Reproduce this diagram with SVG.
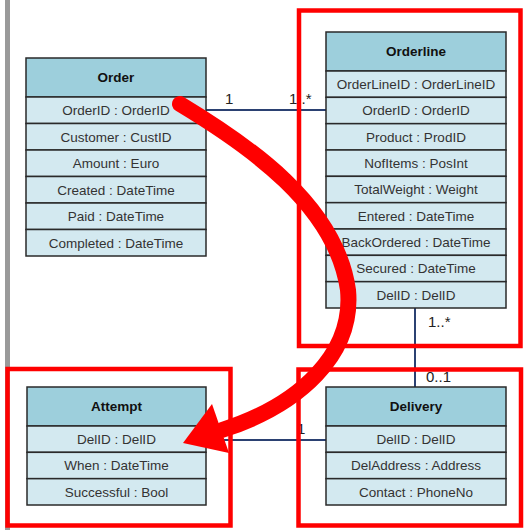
<svg xmlns="http://www.w3.org/2000/svg" width="525" height="530" viewBox="0 0 525 530">
<style>
text{font-family:"Liberation Sans",Arial,sans-serif}
.hd{fill:#9dcfdc;stroke:#2a2a2a;stroke-width:1.5}
.rw{fill:#d3e9f0;stroke:#2a2a2a;stroke-width:1.5}
.ht{font-size:13.5px;font-weight:bold;fill:#111;text-anchor:middle}
.rt{font-size:13.5px;fill:#333;text-anchor:middle}
.cn{stroke:#2b4172;stroke-width:2;fill:none}
.lb{font-size:15px;fill:#222}
.rb{fill:none;stroke:#ff0000;stroke-width:4.5}
</style>
<rect x="5" y="0" width="5" height="530" fill="#9a9a9a"/>
<g id="connectors">
<line class="cn" x1="206" y1="110" x2="326" y2="110"/>
<line class="cn" x1="415" y1="308" x2="415" y2="387"/>
<line class="cn" x1="206" y1="440" x2="326" y2="440"/>
<text class="lb" x="225" y="104">1</text>
<text class="lb" x="289" y="104">1..*</text>
<text class="lb" x="428" y="327">1..*</text>
<text class="lb" x="426" y="382">0..1</text>
<text class="lb" x="297" y="434">1</text>
</g>
<g id="order">
<rect class="hd" x="26" y="58" width="180" height="39"/>
<text class="ht" x="116" y="82">Order</text>
<rect class="rw" x="26" y="97" width="180" height="26.5"/>
<rect class="rw" x="26" y="123.5" width="180" height="26.5"/>
<rect class="rw" x="26" y="150" width="180" height="26.5"/>
<rect class="rw" x="26" y="176.5" width="180" height="26.5"/>
<rect class="rw" x="26" y="203" width="180" height="26.5"/>
<rect class="rw" x="26" y="229.5" width="180" height="26.5"/>
<text class="rt" x="116" y="115">OrderID : OrderID</text>
<text class="rt" x="116" y="141.5">Customer : CustID</text>
<text class="rt" x="116" y="168">Amount : Euro</text>
<text class="rt" x="116" y="194.5">Created : DateTime</text>
<text class="rt" x="116" y="221">Paid : DateTime</text>
<text class="rt" x="116" y="247.5">Completed : DateTime</text>
</g>
<g id="orderline">
<rect class="hd" x="326" y="32" width="180" height="39"/>
<text class="ht" x="416" y="56">Orderline</text>
<rect class="rw" x="326" y="71" width="180" height="26.33"/>
<rect class="rw" x="326" y="97.33" width="180" height="26.33"/>
<rect class="rw" x="326" y="123.67" width="180" height="26.33"/>
<rect class="rw" x="326" y="150" width="180" height="26.33"/>
<rect class="rw" x="326" y="176.33" width="180" height="26.33"/>
<rect class="rw" x="326" y="202.67" width="180" height="26.33"/>
<rect class="rw" x="326" y="229" width="180" height="26.33"/>
<rect class="rw" x="326" y="255.33" width="180" height="26.33"/>
<rect class="rw" x="326" y="281.67" width="180" height="26.33"/>
<text class="rt" x="416" y="89">OrderLineID : OrderLineID</text>
<text class="rt" x="416" y="115.3">OrderID : OrderID</text>
<text class="rt" x="416" y="141.7">Product : ProdID</text>
<text class="rt" x="416" y="168">NofItems : PosInt</text>
<text class="rt" x="416" y="194.3">TotalWeight : Weight</text>
<text class="rt" x="416" y="220.7">Entered : DateTime</text>
<text class="rt" x="416" y="247">BackOrdered : DateTime</text>
<text class="rt" x="416" y="273.3">Secured : DateTime</text>
<text class="rt" x="416" y="299.7">DelID : DelID</text>
</g>
<g id="attempt">
<rect class="hd" x="27" y="387" width="179" height="39"/>
<text class="ht" x="116.5" y="411">Attempt</text>
<rect class="rw" x="27" y="426" width="179" height="26.33"/>
<rect class="rw" x="27" y="452.33" width="179" height="26.33"/>
<rect class="rw" x="27" y="478.67" width="179" height="26.33"/>
<text class="rt" x="116.5" y="444">DelID : DelID</text>
<text class="rt" x="116.5" y="470.3">When : DateTime</text>
<text class="rt" x="116.5" y="496.7">Successful : Bool</text>
</g>
<g id="delivery">
<rect class="hd" x="326" y="387" width="180" height="39"/>
<text class="ht" x="416" y="411">Delivery</text>
<rect class="rw" x="326" y="426" width="180" height="26.33"/>
<rect class="rw" x="326" y="452.33" width="180" height="26.33"/>
<rect class="rw" x="326" y="478.67" width="180" height="26.33"/>
<text class="rt" x="416" y="444">DelID : DelID</text>
<text class="rt" x="416" y="470.3">DelAddress : Address</text>
<text class="rt" x="416" y="496.7">Contact : PhoneNo</text>
</g>
<g id="highlights">
<rect class="rb" x="299" y="10.5" width="221.5" height="335.5"/>
<rect class="rb" x="298.5" y="369.5" width="222.5" height="156"/>
<rect class="rb" x="7.5" y="369" width="223" height="156.5"/>
</g>
<g id="red-arrow">
<path d="M180,104 C248,145 336,205 348,290 C354,354 300,405 222,430" fill="none" stroke="#ff0000" stroke-width="16" stroke-linecap="round"/>
<polygon points="183,443 212,404 229,453" fill="#ff0000"/>
</g>
</svg>
